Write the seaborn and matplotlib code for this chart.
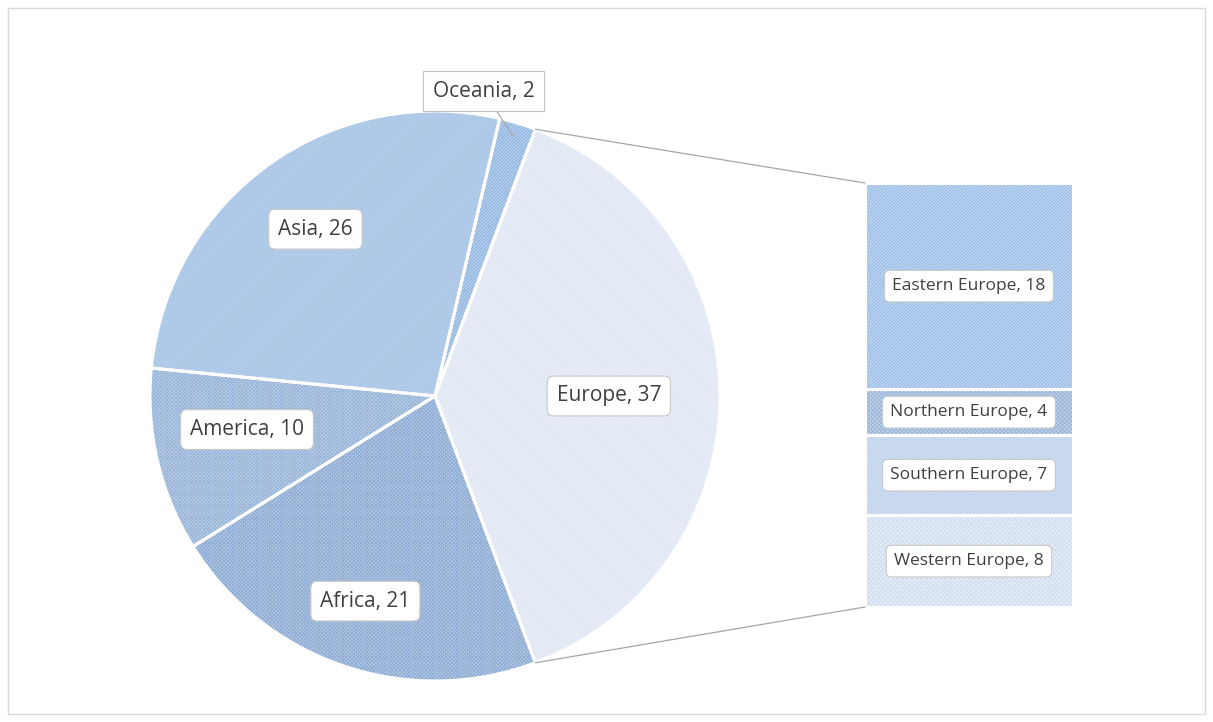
import numpy as np
import matplotlib
matplotlib.use("Agg")
import matplotlib.pyplot as plt
from matplotlib.patches import ConnectionPatch, Rectangle
import seaborn as sns

# ---- data ----
regions = ["Europe", "Oceania", "Asia", "America", "Africa"]
region_values = [37, 2, 26, 10, 21]
europe_parts = ["Eastern Europe", "Northern Europe", "Southern Europe", "Western Europe"]
europe_values = [18, 4, 7, 8]

sns.set_theme(style="white")
plt.rcParams["font.family"] = ["Open Sans", "DejaVu Sans"]
plt.rcParams["hatch.linewidth"] = 0.9

W, H = 1213, 722
fig = plt.figure(figsize=(W / 100, H / 100), dpi=100)

# outer chart border
fig.patches.append(Rectangle((8 / W, 8 / H), (W - 16) / W, (H - 16) / H,
                             transform=fig.transFigure, fill=False,
                             ec="#d9d9d9", lw=1.0))

# pie axes: center (435,396) px, radius 285 px
cx, cy, r = 435, 396, 285
ax = fig.add_axes([(cx - r) / W, (H - cy - r) / H, 2 * r / W, 2 * r / H])
pie_base = ["#eef2f9", "#bcd4ef", "#cadcf1", "#c5d7eb", "#c0d3ea"]
pie_hcol = ["#dce4f2", "#8fb3df", "#a1c0e4", "#9cb7d9", "#93afd5"]
pie_hatch = ["\\\\\\\\\\\\\\\\\\\\", "//////////", "////////////", "xxxxxxxxx", "xxxxxxxxx"]
europe_angle = region_values[0] / sum(region_values) * 360
start = -europe_angle / 2

base, _ = ax.pie(region_values, colors=pie_base, startangle=start,
                 counterclock=True, wedgeprops=dict(linewidth=0))
hatched, _ = ax.pie(region_values, colors=pie_base, startangle=start,
                    counterclock=True, wedgeprops=dict(fill=False, linewidth=0))
for w, hc, h in zip(hatched, pie_hcol, pie_hatch):
    w.set_edgecolor(hc)
    w.set_hatch(h)
edges, _ = ax.pie(region_values, startangle=start, counterclock=True,
                  wedgeprops=dict(fill=False, edgecolor="white", linewidth=2.2))
ax.set_xlim(-1, 1)
ax.set_ylim(-1, 1)
ax.set_aspect("equal")
ax.axis("off")

box = dict(boxstyle="round,pad=0.45,rounding_size=0.3", fc="white", ec="#c8c8c8", lw=0.8)
label_r = [0.61, 1.07, 0.72, 0.67, 0.76]
label_da = [0, 0, 0, -3, 0]
for w, name, val, rr, da in zip(base, regions, region_values, label_r, label_da):
    mid = np.deg2rad((w.theta1 + w.theta2) / 2 + da)
    x, y = rr * np.cos(mid), rr * np.sin(mid)
    if name == "Oceania":
        x, y = 0.17, 1.07
        ax.annotate(f"{name}, {val}", xy=(0.95 * np.cos(mid), 0.95 * np.sin(mid)),
                    xytext=(x, y), ha="center", va="center", fontsize=15,
                    color="#404040", bbox=dict(boxstyle="square,pad=0.45", fc="white",
                                               ec="#bfbfbf", lw=0.8),
                    arrowprops=dict(arrowstyle="-", color="#a6a6a6", lw=0.8,
                                    shrinkA=0, shrinkB=0),
                    annotation_clip=False)
    else:
        ax.text(x, y, f"{name}, {val}", ha="center", va="center", fontsize=15,
                color="#404040", bbox=box)

# bar axes: x 865..1073, y 183..607 px
bx0, bx1, by0, by1 = 865, 1073, 183, 607
bax = fig.add_axes([bx0 / W, (H - by1) / H, (bx1 - bx0) / W, (by1 - by0) / H])
bar_base = ["#c6dbf3", "#c6d7ec", "#d8e4f4", "#e7eef7"]
bar_hcol = ["#99bbe5", "#9fb9dc", "#bbd0eb", "#d3dff0"]
bar_hatch = ["//////////", "xxxxxxxx", "//////////", "xxxxxxx"]
bottoms = np.concatenate([[0], np.cumsum(europe_values)[:-1]])
bax.bar([0] * len(europe_values), europe_values, bottom=bottoms, width=1.0,
        color=bar_base, linewidth=0)
hb = bax.bar([0] * len(europe_values), europe_values, bottom=bottoms, width=1.0,
             fill=False, linewidth=0)
for b, hc, h in zip(hb, bar_hcol, bar_hatch):
    b.set_edgecolor(hc)
    b.set_hatch(h)
bax.bar([0] * len(europe_values), europe_values, bottom=bottoms, width=1.0,
        fill=False, edgecolor="white", linewidth=2.2)
bax.set_xlim(-0.5, 0.5)
bax.set_ylim(sum(europe_values), 0)
bax.axis("off")
for name, val, bot in zip(europe_parts, europe_values, bottoms):
    bax.text(0.0, bot + val / 2, f"{name}, {val}", ha="center", va="center",
             fontsize=12.5, color="#404040", bbox=box)

# connector lines
t1 = np.deg2rad(europe_angle / 2)
for (px, py), (qx, qy) in [((np.cos(t1), np.sin(t1)), (0, 1)),
                           ((np.cos(-t1), np.sin(-t1)), (0, 0))]:
    con = ConnectionPatch(xyA=(px, py), coordsA=ax.transData,
                          xyB=(qx, qy), coordsB=bax.transAxes,
                          color="#a6a6a6", lw=0.9)
    fig.add_artist(con)

fig.savefig("out.png", dpi=100, facecolor="white")
